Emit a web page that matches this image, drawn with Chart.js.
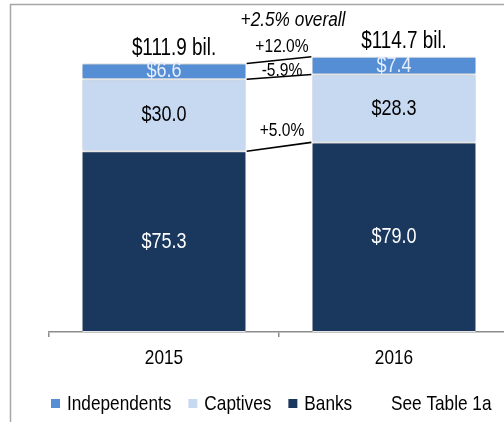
<!DOCTYPE html>
<html>
<head>
<meta charset="utf-8">
<script src="https://cdn.jsdelivr.net/npm/chart.js@4"></script>
<style>
  html, body { margin: 0; padding: 0; background: #fff; overflow: hidden; }
  canvas { display: block; }
</style>
</head>
<body>
<canvas id="myChart" width="560" height="422"></canvas>
<script>
const years = ['2015', '2016'];
const banks = [75.3, 79.0];
const captives = [30.0, 28.3];
const independents = [6.6, 7.4];
const seriesNames = ['Banks', 'Captives', 'Independents'];
const changeLabels = ['+5.0%', '-5.9%', '+12.0%'];
const overallLabel = '+2.5% overall';
const totalSuffix = ' bil.';
const noteText = 'See Table 1a';

const FONT = '"Liberation Sans", Arial, sans-serif';
const SQUEEZE = 0.82; // the source text is a narrow face
const colors = ['#1a375e', '#c6d9f1', '#558ed5'];
const labelColors = ['#ffffff', '#000000', '#e6eef9'];

// how far each change label sits above its connecting line
const changeOffsets = [16, 6, 13];

// draws condensed text centred (or left aligned) at x,y
function narrowText(ctx, text, x, y, size, align, italic) {
  ctx.save();
  ctx.translate(x, y);
  ctx.scale(SQUEEZE, 1);
  ctx.font = (italic ? 'italic ' : '') + size + 'px ' + FONT;
  ctx.textAlign = align || 'center';
  ctx.textBaseline = 'middle';
  ctx.fillText(text, 0, 0);
  const w = ctx.measureText(text).width * SQUEEZE;
  ctx.restore();
  return w;
}

const annotate = {
  id: 'annotate',
  beforeDraw(chart) {
    const ctx = chart.ctx;
    ctx.save();
    ctx.strokeStyle = '#a6a6a6';
    ctx.lineWidth = 1.5;
    ctx.strokeRect(10.5, 4.5, 700, 600);
    ctx.restore();
  },
  beforeDatasetDraw(chart) {
    const ctx = chart.ctx;
    ctx.save();
    ctx.shadowColor = 'rgba(0,0,0,0.28)';
    ctx.shadowBlur = 4;
  },
  afterDatasetDraw(chart) {
    chart.ctx.restore();
  },
  afterDatasetsDraw(chart) {
    const ctx = chart.ctx;
    ctx.save();

    // values inside segments
    chart.data.datasets.forEach((ds, i) => {
      const meta = chart.getDatasetMeta(i);
      ctx.fillStyle = labelColors[i];
      meta.data.forEach((bar, j) => {
        const p = bar.getProps(['x', 'y', 'base'], true);
        narrowText(ctx, '$' + ds.data[j].toFixed(1), p.x, (p.y + p.base) / 2, 22);
      });
    });

    // connecting lines and change labels
    ctx.strokeStyle = '#000';
    ctx.lineWidth = 1.6;
    chart.data.datasets.forEach((ds, i) => {
      const meta = chart.getDatasetMeta(i);
      const b0 = meta.data[0].getProps(['x', 'y', 'width'], true);
      const b1 = meta.data[1].getProps(['x', 'y', 'width'], true);
      const x0 = b0.x + b0.width / 2 + 1;
      const x1 = b1.x - b1.width / 2 - 1;
      ctx.beginPath();
      ctx.moveTo(x0, b0.y);
      ctx.lineTo(x1, b1.y);
      ctx.stroke();
      ctx.fillStyle = '#000';
      narrowText(ctx, changeLabels[i], (x0 + x1) / 2 + 3, (b0.y + b1.y) / 2 - changeOffsets[i], 19);
    });

    // totals above the bars
    const top = chart.getDatasetMeta(chart.data.datasets.length - 1);
    ctx.fillStyle = '#000';
    top.data.forEach((bar, j) => {
      const total = banks[j] + captives[j] + independents[j];
      narrowText(ctx, '$' + total.toFixed(1) + totalSuffix, bar.x + 10, bar.y - 15, 23);
    });

    // overall change
    const xs = chart.scales.x;
    narrowText(ctx, overallLabel, (xs.getPixelForValue(0) + xs.getPixelForValue(1)) / 2 + 14, 20, 21, 'center', true);

    // category labels under the axis
    years.forEach((yr, j) => {
      narrowText(ctx, yr, xs.getPixelForValue(j), xs.top + 26, 21);
    });
    ctx.restore();
  },
  afterDraw(chart) {
    // legend: Independents, Captives, Banks, then the note
    const ctx = chart.ctx;
    ctx.save();
    let x = 51;
    const y = 404;
    for (let i = chart.data.datasets.length - 1; i >= 0; i--) {
      const ds = chart.data.datasets[i];
      ctx.fillStyle = ds.backgroundColor;
      ctx.fillRect(x, y - 5, 9, 9);
      x += 16;
      ctx.fillStyle = '#000';
      x += narrowText(ctx, ds.label, x, y, 21, 'left') + 17;
    }
    narrowText(ctx, noteText, 391, y, 21, 'left');
    ctx.restore();
  }
};

function drawChart() {
  const ctx = document.getElementById('myChart');
  const seriesData = [banks, captives, independents];

  new Chart(ctx, {
    type: 'bar',
    data: {
      labels: years,
      datasets: seriesNames.map((name, i) => ({
        label: name,
        data: seriesData[i],
        backgroundColor: colors[i],
        borderColor: '#ffffff',
        borderWidth: { top: 1, bottom: 1, left: 0, right: 0 },
        borderSkipped: false,
        categoryPercentage: 1,
        barPercentage: 0.71,
      })),
    },
    options: {
      responsive: false,
      animation: false,
      layout: { padding: { left: 49, right: 51, top: 44, bottom: 0 } },
      plugins: {
        legend: { display: false },
        tooltip: { enabled: false },
      },
      scales: {
        x: {
          stacked: true,
          grid: {
            offset: true,
            drawOnChartArea: false,
            drawTicks: true,
            tickLength: 5,
            color: '#8c8c8c',
            lineWidth: 1.5,
          },
          border: { display: true, color: '#8c8c8c', width: 1.5 },
          ticks: { display: false },
          afterFit(scale) {
            scale.height = 90;
          },
        },
        y: {
          stacked: true,
          display: false,
          min: 0,
          max: 120,
        },
      },
    },
    plugins: [annotate],
  });
}

drawChart();
</script>
</body>
</html>
